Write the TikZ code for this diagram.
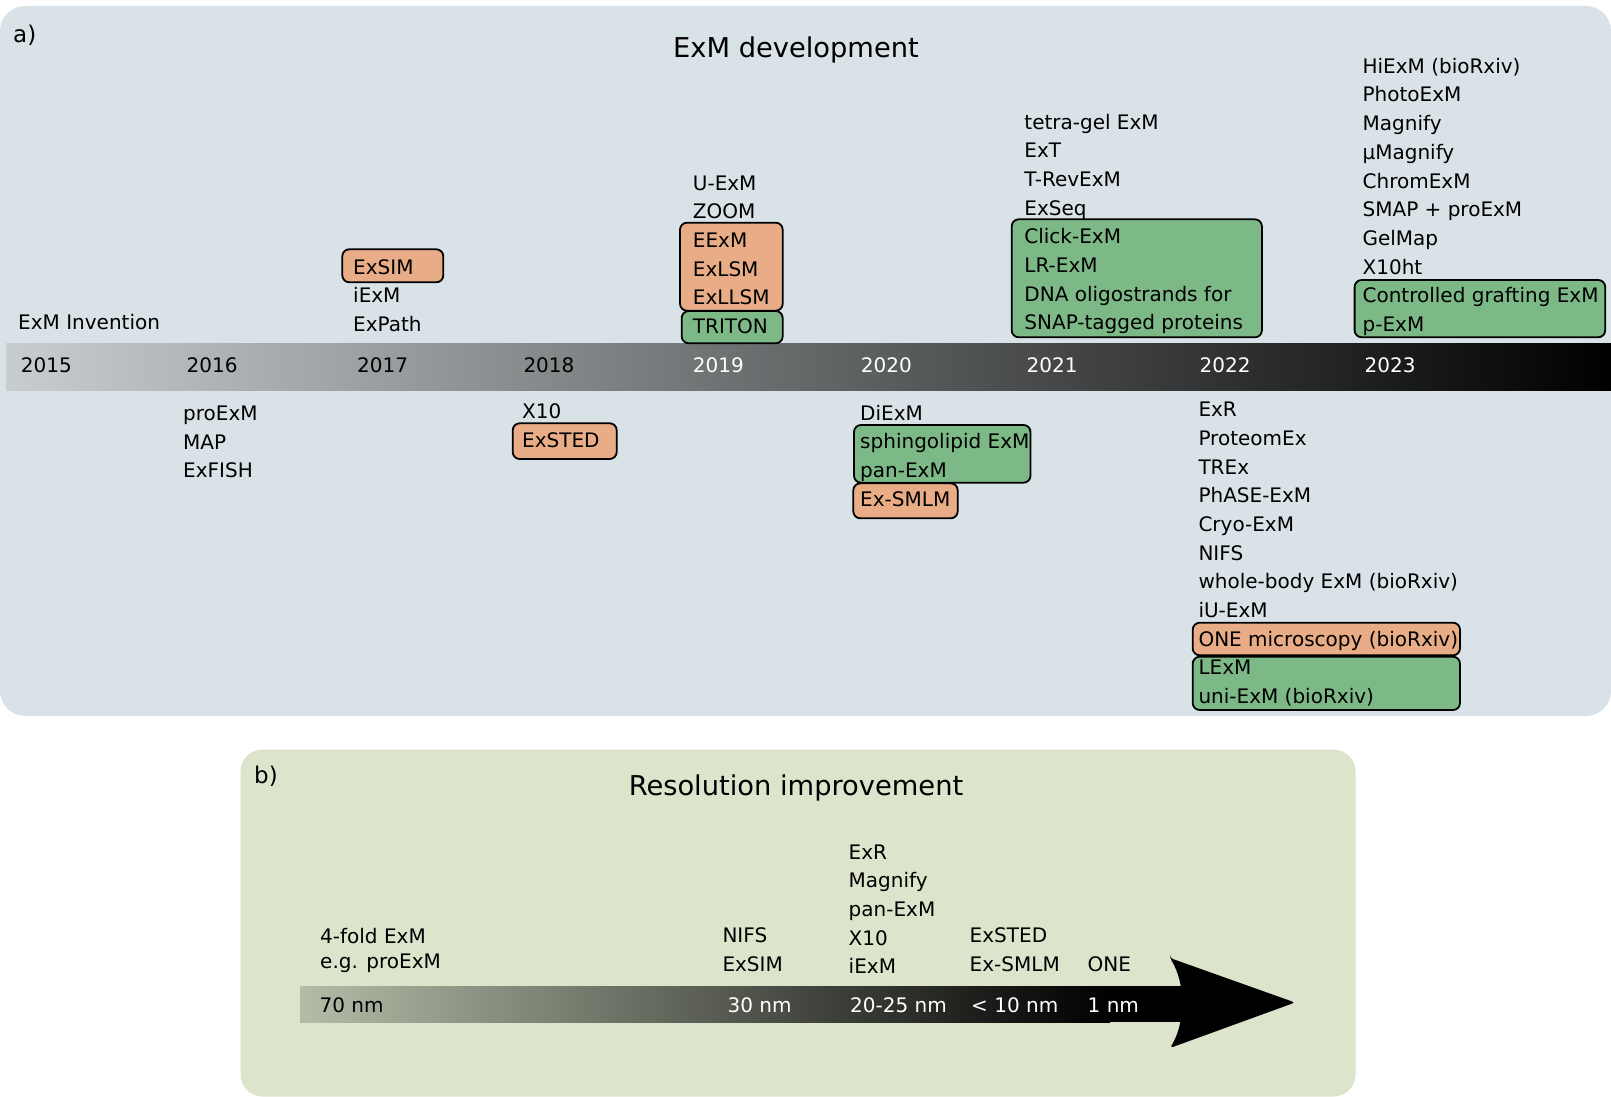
\documentclass[tikz,border=0pt]{standalone}
\usepackage{fontspec}
\setmainfont{DejaVu Sans}

\definecolor{panelA}{RGB}{217,227,231}
\definecolor{panelB}{RGB}{220,228,203}
\definecolor{barlight}{RGB}{200,206,208}
\definecolor{arrowlight}{RGB}{180,188,168}
\definecolor{orangefill}{RGB}{232,172,134}
\definecolor{greenfill}{RGB}{125,185,135}

\tikzset{
	item/.style = {anchor = base west, inner sep = 0 pt, font = \fontsize{20}{24}\selectfont},
	panellabel/.style = {anchor = base west, inner sep = 0 pt, font = \fontsize{23}{28}\selectfont},
	heading/.style = {anchor = base, inner sep = 0 pt, font = \fontsize{27.3}{32}\selectfont},
	obox/.style = {draw = black, line width = 1.8 pt, fill = orangefill, rounded corners = 7 pt},
	gbox/.style = {draw = black, line width = 1.8 pt, fill = greenfill, rounded corners = 7 pt}
}

\begin{document}
\begin{tikzpicture}[x = 1 pt, y = -1 pt]
		\useasboundingbox (0, 0) rectangle (1611, 1097);
		
		% a) ExM development
		\fill[panelA, rounded corners = 25 pt] (0, 6) rectangle (1611, 716);
		\shade[left color = barlight, right color = black] (6, 343) rectangle (1611, 390);
		\node[panellabel] (labelA) at (13, 43) {a)};
		\node[heading] (titleA) at (796, 58) {ExM development};
		
		\foreach \yr/\px/\col in {2015/20.7/black, 2016/186.5/black, 2017/357/black, 2018/523.3/black, 2019/692.7/white, 2020/860.7/white, 2021/1026.5/white, 2022/1199.5/white, 2023/1364.4/white}
		\node[item, text = \col] (yr\yr) at (\px, 372.8) {\yr};
		
		\draw[obox] (342.3, 249.3) rectangle (443.3, 282.3);
		\draw[obox] (512.7, 423.3) rectangle (616.7, 459);
		\draw[obox] (680, 222.7) rectangle (782.7, 310.7);
		\draw[gbox] (681.7, 311) rectangle (782.7, 343.3);
		\draw[gbox] (854, 425) rectangle (1030.5, 482.7);
		\draw[obox] (853.3, 483.3) rectangle (957.7, 518.3);
		\draw[gbox] (1011.7, 219.3) rectangle (1261.9, 337.3);
		\draw[gbox] (1354.6, 280) rectangle (1605.2, 337.3);
		\draw[obox] (1192.7, 622.7) rectangle (1460, 655.3);
		\draw[gbox] (1192.7, 656.7) rectangle (1460, 710);
		
		\node[item] (inv) at (18, 329.5) {ExM Invention};
		
		\foreach \t [count = \i from 0] in {proExM, MAP, ExFISH}
		\node[item] (a16-\i) at (183, {420.3 + 28.7*\i}) {\t};
		
		\foreach \t [count = \i from 0] in {ExSIM, iExM, ExPath}
		\node[item] (a17-\i) at (353, {274 + 28.7*\i}) {\t};
		
		\foreach \t [count = \i from 0] in {X10, ExSTED}
		\node[item] (a18-\i) at (522, {418.3 + 29.5*\i}) {\t};
		
		\foreach \t [count = \i from 0] in {U-ExM, ZOOM, EExM, ExLSM, ExLLSM, TRITON}
		\node[item] (a19-\i) at (692.7, {190 + 28.7*\i}) {\t};
		
		\foreach \t [count = \i from 0] in {DiExM, sphingolipid ExM, pan-ExM, Ex-SMLM}
		\node[item] (a20-\i) at (860, {420 + 28.7*\i}) {\t};
		
		\foreach \t [count = \i from 0] in {tetra-gel ExM, ExT, T-RevExM, ExSeq, Click-ExM, LR-ExM, DNA oligostrands for, SNAP-tagged proteins}
		\node[item] (a21-\i) at (1024.2, {129 + 28.7*\i}) {\t};
		
		\foreach \t [count = \i from 0] in {ExR, ProteomEx, TREx, PhASE-ExM, Cryo-ExM, NIFS, whole-body ExM (bioRxiv), iU-ExM, ONE microscopy (bioRxiv), LExM, uni-ExM (bioRxiv)}
		\node[item] (a22-\i) at (1198.3, {416.6 + 28.7*\i}) {\t};
		
		\foreach \t [count = \i from 0] in {HiExM (bioRxiv), PhotoExM, Magnify, µMagnify, ChromExM, SMAP + proExM, GelMap, X10ht, Controlled grafting ExM, p-ExM}
		\node[item] (a23-\i) at (1362.4, {73.3 + 28.7*\i}) {\t};
		
		% b) Resolution improvement
		\fill[panelB, rounded corners = 22 pt] (240.5, 749.5) rectangle (1355.5, 1096.5);
		\node[panellabel] (labelB) at (254, 783) {b)};
		\node[heading] (titleB) at (796, 795) {Resolution improvement};
		
		\shade[left color = arrowlight, right color = black] (300, 986) rectangle (1110, 1022);
		\fill[black] (1109, 986) rectangle (1184, 1022);
		\fill[black, rounded corners = 3 pt] (1170, 958) -- (1295, 1002.5) -- (1170, 1048) .. controls (1178, 1035) and (1182, 1020) .. (1182, 1003) .. controls (1182, 986) and (1178, 971) .. cycle;
		
		\node[item] (fold) at (320, 943) {4-fold ExM};
		\node[item] (eg) at (320, 968.3) {e.g. proExM};
		\node[item] (nifs) at (722.3, 942.3) {NIFS};
		\node[item] (exsim) at (722.3, 971) {ExSIM};
		
		\foreach \t [count = \i from 0] in {ExR, Magnify, pan-ExM, X10, iExM}
		\node[item] (b20-\i) at (848.5, {859 + 28.7*\i}) {\t};
		
		\node[item] (exsted) at (969.5, 942.3) {ExSTED};
		\node[item] (exsmlm) at (969.5, 971) {Ex-SMLM};
		\node[item] (one) at (1087.5, 971) {ONE};
		
		\foreach \t/\px/\col in {70 nm/319.5/black, 30 nm/727.4/white, 20-25 nm/850/white, < 10 nm/971/white, 1 nm/1087.5/white}
		\node[item, text = \col] (res\px) at (\px, 1012.3) {\t};
	\end{tikzpicture}
\end{document}
